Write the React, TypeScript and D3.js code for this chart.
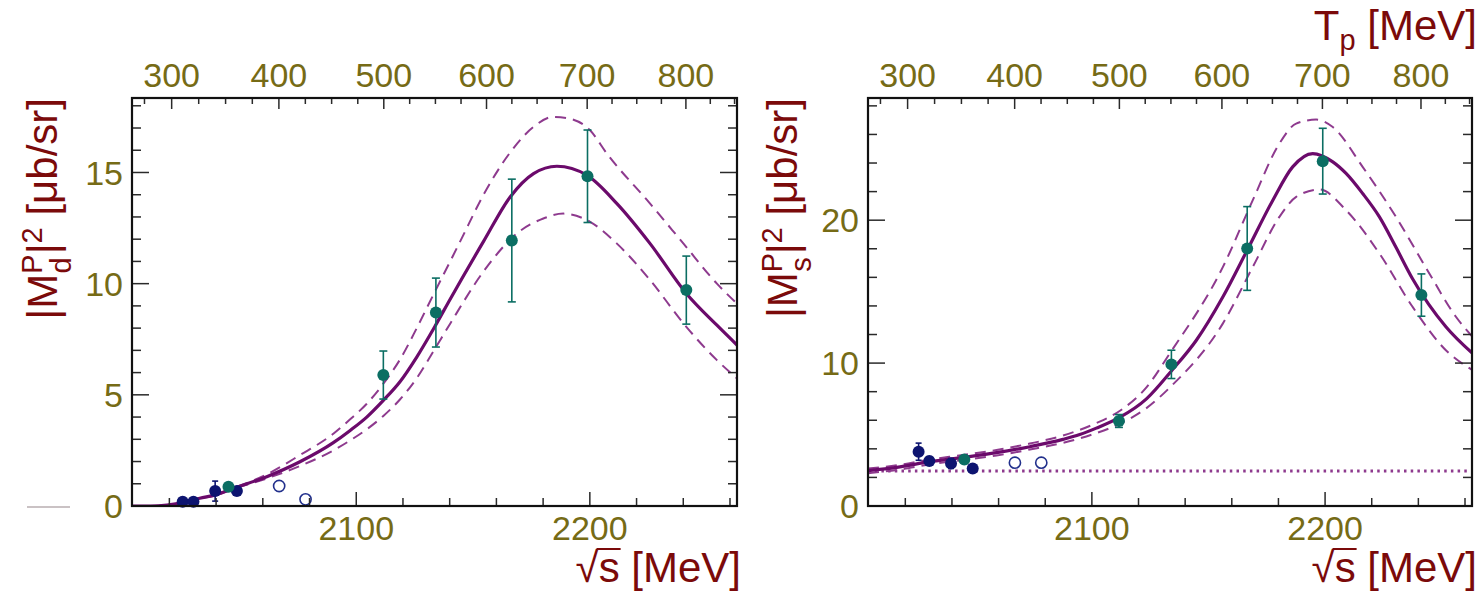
import React from 'react';
import * as d3 from 'd3';

// ---------- axes ----------
const PROTON_MASS = 938.27; // MeV, for the Tp <-> sqrt(s) top axis
const SQRT_S_DOMAIN: [number, number] = [2004, 2263];
const BOTTOM_TICK_LABELS = [2100, 2200];
const BOTTOM_TICK_STEP = 20;
const TOP_TICK_LABELS = [300, 400, 500, 600, 700, 800];
const TOP_TICK_STEP = 25;
const TOP_TICK_RANGE: [number, number] = [275, 850];

// ---------- shared data abscissae (sqrt(s) in MeV) ----------
const tealSqrtS = [2111.6, 2134.1, 2166.6, 2199.0, 2241.3];
const navySqrtS = [2025.7, 2030.3, 2039.6, 2048.9];
const lowTealSqrtS = [2045.3];
const openSqrtS = [2067.0, 2078.3];

// ---------- left panel |M_d^P|^2 ----------
const dSolid: [number, number][] = [
  [2004, 0], [2012, 0], [2019, 0.04], [2026, 0.15], [2033, 0.35], [2039.5, 0.49],
  [2047.4, 0.79], [2061.7, 1.32], [2075.9, 1.99], [2090.2, 2.85], [2097.4, 3.4],
  [2104.5, 4.0], [2111.6, 4.75], [2118.8, 5.6], [2125.9, 6.7], [2133.8, 8.1],
  [2140.2, 9.3], [2154.5, 11.9], [2165.9, 13.9], [2175.9, 14.95], [2185.9, 15.28],
  [2198.7, 14.88], [2211.6, 13.6], [2225.8, 11.8], [2241.3, 9.56], [2254.4, 8.13], [2263, 7.24],
];
const dUpper: [number, number][] = [
  [2004, 0], [2012, 0], [2019, 0.04], [2026, 0.15], [2033, 0.35], [2039.5, 0.5],
  [2047.4, 0.81], [2061.7, 1.42], [2075.9, 2.29], [2090.2, 3.25], [2097.4, 3.9],
  [2104.5, 4.6], [2111.6, 5.5], [2118.8, 6.6], [2125.9, 8.0], [2133, 9.5],
  [2140.2, 11.0], [2144.5, 11.9], [2154.5, 14.0], [2165.9, 15.9], [2175.9, 17.05],
  [2184.3, 17.5], [2190, 17.45], [2200.1, 16.9], [2207.3, 15.85], [2225.8, 13.6],
  [2240.1, 11.8], [2254.4, 10.0], [2263, 9.1],
];
const dLower: [number, number][] = [
  [2004, 0], [2012, 0], [2019, 0.04], [2026, 0.15], [2033, 0.34], [2039.5, 0.47],
  [2047.4, 0.76], [2061.7, 1.24], [2075.9, 1.8], [2090.2, 2.5], [2097.4, 2.95],
  [2104.5, 3.45], [2111.6, 4.05], [2118.8, 4.8], [2125.9, 5.75], [2133, 6.95],
  [2140.2, 8.2], [2154.5, 10.55], [2168.8, 12.26], [2180.1, 12.93], [2188.7, 13.15],
  [2200.1, 12.78], [2211.6, 11.8], [2225.8, 10.16], [2240.1, 8.21], [2254.4, 6.56], [2263, 5.74],
];
const dTealValues = [5.89, 8.7, 11.94, 14.83, 9.71];
const dTealErrors = [1.08, 1.55, 2.76, 2.08, 1.53];
const dNavyValues = [0.19, 0.19, 0.67, 0.67];
const dNavyErrors = [0.05, 0.05, 0.45, 0.1];
const dLowTealValues = [0.87];
const dLowTealErrors = [0.08];
const dOpenValues = [0.9, 0.3];

// ---------- right panel |M_s^P|^2 ----------
const sSolid: [number, number][] = [
  [2004, 2.47], [2016.3, 2.7], [2030.6, 3.1], [2044.8, 3.4], [2059.1, 3.73],
  [2073.4, 4.15], [2087.6, 4.66], [2094.8, 5.0], [2101.9, 5.45], [2111.9, 6.2],
  [2123.4, 7.5], [2134.1, 9.45], [2144.8, 11.6], [2156.2, 14.64], [2166.6, 17.9],
  [2177.6, 21.4], [2186.1, 23.73], [2194.7, 24.66], [2203.3, 24.08], [2209, 23.27],
  [2216.1, 21.87], [2223.3, 20.23], [2230.4, 18.1], [2237.5, 15.9], [2251.8, 12.54], [2263.2, 10.68],
];
const sUpper: [number, number][] = [
  [2004, 2.62], [2016.3, 2.85], [2030.6, 3.25], [2044.8, 3.57], [2059.1, 3.92],
  [2073.4, 4.37], [2087.6, 4.93], [2101.9, 5.8], [2111.9, 6.65], [2123.4, 8.3],
  [2133.3, 10.65], [2156.2, 16.73], [2169, 21.4], [2180.4, 25.36], [2187.6, 26.76],
  [2196.2, 27.04], [2203.3, 26.52], [2216.1, 23.73], [2230.4, 20.23], [2244.7, 16.27],
  [2256.1, 13.24], [2263.2, 11.84],
];
const sLower: [number, number][] = [
  [2004, 2.3], [2016.3, 2.52], [2030.6, 2.92], [2044.8, 3.22], [2059.1, 3.53],
  [2073.4, 3.95], [2087.6, 4.42], [2101.9, 5.1], [2111.9, 5.75], [2123.4, 6.85],
  [2134.1, 8.4], [2156.2, 12.78], [2169, 16.73], [2180.4, 20.23], [2187.6, 21.63],
  [2197.6, 22.15], [2209, 20.7], [2223.3, 17.67], [2237.5, 13.94], [2251.8, 10.9], [2263.2, 9.51],
];
const sTealValues = [5.95, 9.91, 18.02, 24.13, 14.76];
const sTealErrors = [0.45, 0.99, 2.93, 2.3, 1.48];
const sNavyValues = [3.8, 3.15, 2.98, 2.63];
const sNavyErrors = [0.6, 0.3, 0.35, 0.25];
const sLowTealValues = [3.26];
const sLowTealErrors = [0.15];
const sOpenValues = [3.03, 3.03];
const sBackgroundLevel = 2.45;

// ---------- styles ----------
const FONT = '"Liberation Sans", Arial, Helvetica, sans-serif';
const TICK_LABEL_COLOR = '#766b16';
const TITLE_COLOR = '#7b0a0a';
const CURVE_COLOR = '#6b0a6b';
const DASH_COLOR = '#8e3a8e';
const TEAL = '#0b6e63';
const NAVY = '#0d1470';
const OPEN = '#22308c';

const tpToSqrtS = (tp: number) => Math.sqrt(4 * PROTON_MASS * PROTON_MASS + 2 * PROTON_MASS * tp);

type Pt = { s: number; v: number; e?: number };
const zipPts = (s: number[], v: number[], e?: number[]): Pt[] =>
  s.map((si, i) => ({ s: si, v: v[i], e: e ? e[i] : undefined }));

type PanelCfg = {
  id: string;
  x0: number; x1: number; y0: number; y1: number;
  yMax: number; yMajor: number; yMinor: number;
  solid: [number, number][]; upper: [number, number][]; lower: [number, number][];
  teal: Pt[]; navy: Pt[]; lowTeal: Pt[]; open: Pt[];
  background?: number;
  sub: string;
  titleX: number;
  xTitleRight: number;
};

function Panel({ c }: { c: PanelCfg }) {
  const x = d3.scaleLinear().domain(SQRT_S_DOMAIN).range([c.x0, c.x1]);
  const y = d3.scaleLinear().domain([0, c.yMax]).range([c.y1, c.y0]);
  const line = d3.line<[number, number]>().x(d => x(d[0])).y(d => y(d[1])).curve(d3.curveMonotoneX);

  const bottomTicks = d3.range(2020, SQRT_S_DOMAIN[1] + 0.01, BOTTOM_TICK_STEP);
  const topTicks = d3.range(TOP_TICK_RANGE[0], TOP_TICK_RANGE[1] + 1, TOP_TICK_STEP)
    .filter(tp => { const px = x(tpToSqrtS(tp)); return px > c.x0 + 2 && px < c.x1 - 1; });
  const yTicks = d3.range(c.yMinor, c.yMax, c.yMinor).map(v => Math.round(v * 1000) / 1000);
  const yLabels = d3.range(0, c.yMax, c.yMajor);

  const tickStroke = '#2a2a2a';
  const errBar = (p: Pt, color: string, cap: number, key: string) => {
    if (p.e === undefined) return null;
    const cx = x(p.s);
    const yt = y(p.v + p.e), yb = y(p.v - p.e);
    return (
      <g key={key} stroke={color} strokeWidth={1.6}>
        <line x1={cx} x2={cx} y1={yt} y2={yb} />
        <line x1={cx - cap} x2={cx + cap} y1={yt} y2={yt} />
        <line x1={cx - cap} x2={cx + cap} y1={yb} y2={yb} />
      </g>
    );
  };

  // radical bar over the "s" of the x-axis title (title is right-anchored; widths in em of a 42px font)
  const titleFs = 42;
  const tailW = 2.89 * titleFs; // " [MeV]"
  const sW = 0.5 * titleFs;
  const barX2 = c.xTitleRight - tailW + 1;
  const barX1 = barX2 - sW - 3;

  return (
    <g>
      <defs>
        <clipPath id={`clip-${c.id}`}>
          <rect x={c.x0} y={c.y0} width={c.x1 - c.x0} height={c.y1 - c.y0} />
        </clipPath>
      </defs>

      {/* curves */}
      <g clipPath={`url(#clip-${c.id})`} fill="none">
        {c.background !== undefined && (
          <line x1={c.x0} x2={c.x1} y1={y(c.background)} y2={y(c.background)}
            stroke={DASH_COLOR} strokeWidth={3} strokeDasharray="2.5 4.2" />
        )}
        <path d={line(c.upper) || ''} stroke={DASH_COLOR} strokeWidth={2} strokeDasharray="11 7" />
        <path d={line(c.lower) || ''} stroke={DASH_COLOR} strokeWidth={2} strokeDasharray="11 7" />
        <path d={line(c.solid) || ''} stroke={CURVE_COLOR} strokeWidth={3.2} />
      </g>

      {/* data points */}
      <g>
        {c.teal.map((p, i) => errBar(p, TEAL, 4, `te${i}`))}
        {c.navy.map((p, i) => errBar(p, NAVY, 3, `ne${i}`))}
        {c.lowTeal.map((p, i) => errBar(p, TEAL, 3, `le${i}`))}
        {c.open.map((p, i) => (
          <circle key={`o${i}`} cx={x(p.s)} cy={y(p.v)} r={5.6} fill="white" stroke={OPEN} strokeWidth={1.6} />
        ))}
        {c.navy.map((p, i) => (
          <circle key={`n${i}`} cx={x(p.s)} cy={y(p.v)} r={6} fill={NAVY} />
        ))}
        {c.lowTeal.map((p, i) => (
          <circle key={`l${i}`} cx={x(p.s)} cy={y(p.v)} r={6} fill={TEAL} />
        ))}
        {c.teal.map((p, i) => (
          <circle key={`t${i}`} cx={x(p.s)} cy={y(p.v)} r={6} fill={TEAL} />
        ))}
      </g>

      {/* ticks */}
      <g stroke={tickStroke} strokeWidth={1.5}>
        {bottomTicks.map(t => {
          const L = t % 100 === 0 ? 14 : 8;
          return <line key={`b${t}`} x1={x(t)} x2={x(t)} y1={c.y1} y2={c.y1 - L} />;
        })}
        {topTicks.map(tp => {
          const L = tp % 100 === 0 ? 11 : 6;
          const px = x(tpToSqrtS(tp));
          return <line key={`t${tp}`} x1={px} x2={px} y1={c.y0} y2={c.y0 + L} />;
        })}
        {yTicks.map(v => {
          const L = Math.abs(v % c.yMajor) < 1e-6 ? 17 : 9;
          return (
            <g key={`y${v}`}>
              <line x1={c.x0} x2={c.x0 + L} y1={y(v)} y2={y(v)} />
              <line x1={c.x1} x2={c.x1 - L} y1={y(v)} y2={y(v)} />
            </g>
          );
        })}
      </g>

      {/* frame */}
      <rect x={c.x0} y={c.y0} width={c.x1 - c.x0} height={c.y1 - c.y0} fill="none" stroke="#111" strokeWidth={2.2} />

      {/* tick labels */}
      <g fontFamily={FONT} fontSize={34} fill={TICK_LABEL_COLOR}>
        {BOTTOM_TICK_LABELS.map(t => (
          <text key={`bl${t}`} x={x(t)} y={c.y1 + 34} textAnchor="middle">{t}</text>
        ))}
        {TOP_TICK_LABELS.map(tp => (
          <text key={`tl${tp}`} x={x(tpToSqrtS(tp))} y={c.y0 - 11} textAnchor="middle">{tp}</text>
        ))}
        {yLabels.map(v => (
          <text key={`yl${v}`} x={c.x0 - 9} y={y(v)} dy="0.36em" textAnchor="end">{v}</text>
        ))}
      </g>

      {/* axis titles */}
      <g fontFamily={FONT} fill={TITLE_COLOR}>
        <text transform={`translate(${c.titleX},${c.y0}) rotate(-90)`} textAnchor="end" fontSize={42}>
          <tspan>|M</tspan>
          <tspan dy={-15} fontSize={29}>P</tspan>
          <tspan dx={-19} dy={29} fontSize={29}>{c.sub}</tspan>
          <tspan dx={3} dy={-14}>|</tspan>
          <tspan dy={-15} fontSize={29}>2</tspan>
          <tspan dy={15}> [μb/sr]</tspan>
        </text>
        <text x={c.xTitleRight} y={582} textAnchor="end" fontSize={titleFs}>√s [MeV]</text>
      </g>
      <line x1={barX1} x2={barX2} y1={549} y2={549} stroke={TITLE_COLOR} strokeWidth={2} />
    </g>
  );
}

const leftCfg: PanelCfg = {
  id: 'd', x0: 132, x1: 737, y0: 98, y1: 506,
  yMax: 18.35, yMajor: 5, yMinor: 1,
  solid: dSolid, upper: dUpper, lower: dLower,
  teal: zipPts(tealSqrtS, dTealValues, dTealErrors),
  navy: zipPts(navySqrtS, dNavyValues, dNavyErrors),
  lowTeal: zipPts(lowTealSqrtS, dLowTealValues, dLowTealErrors),
  open: zipPts(openSqrtS, dOpenValues),
  sub: 'd', titleX: 57, xTitleRight: 741,
};

const rightCfg: PanelCfg = {
  id: 's', x0: 868, x1: 1472, y0: 98, y1: 506,
  yMax: 28.55, yMajor: 10, yMinor: 2,
  solid: sSolid, upper: sUpper, lower: sLower,
  teal: zipPts(tealSqrtS, sTealValues, sTealErrors),
  navy: zipPts(navySqrtS, sNavyValues, sNavyErrors),
  lowTeal: zipPts(lowTealSqrtS, sLowTealValues, sLowTealErrors),
  open: zipPts(openSqrtS, sOpenValues),
  background: sBackgroundLevel,
  sub: 's', titleX: 797, xTitleRight: 1477,
};

export default function App() {
  return (
    <svg width={1480} height={594} viewBox="0 0 1480 594"
      style={{ position: 'absolute', left: 0, top: 0, background: 'white' }}>
      <rect x={0} y={0} width={1480} height={594} fill="white" />
      <line x1={27} x2={70} y1={507} y2={507} stroke="#b8aeb0" strokeWidth={1.5} />
      <Panel c={leftCfg} />
      <Panel c={rightCfg} />
      <text x={1477} y={40} textAnchor="end" fontFamily={FONT} fontSize={42} fill={TITLE_COLOR}>
        <tspan>T</tspan>
        <tspan dy={10} fontSize={29}>p</tspan>
        <tspan dy={-10}> [MeV]</tspan>
      </text>
    </svg>
  );
}
